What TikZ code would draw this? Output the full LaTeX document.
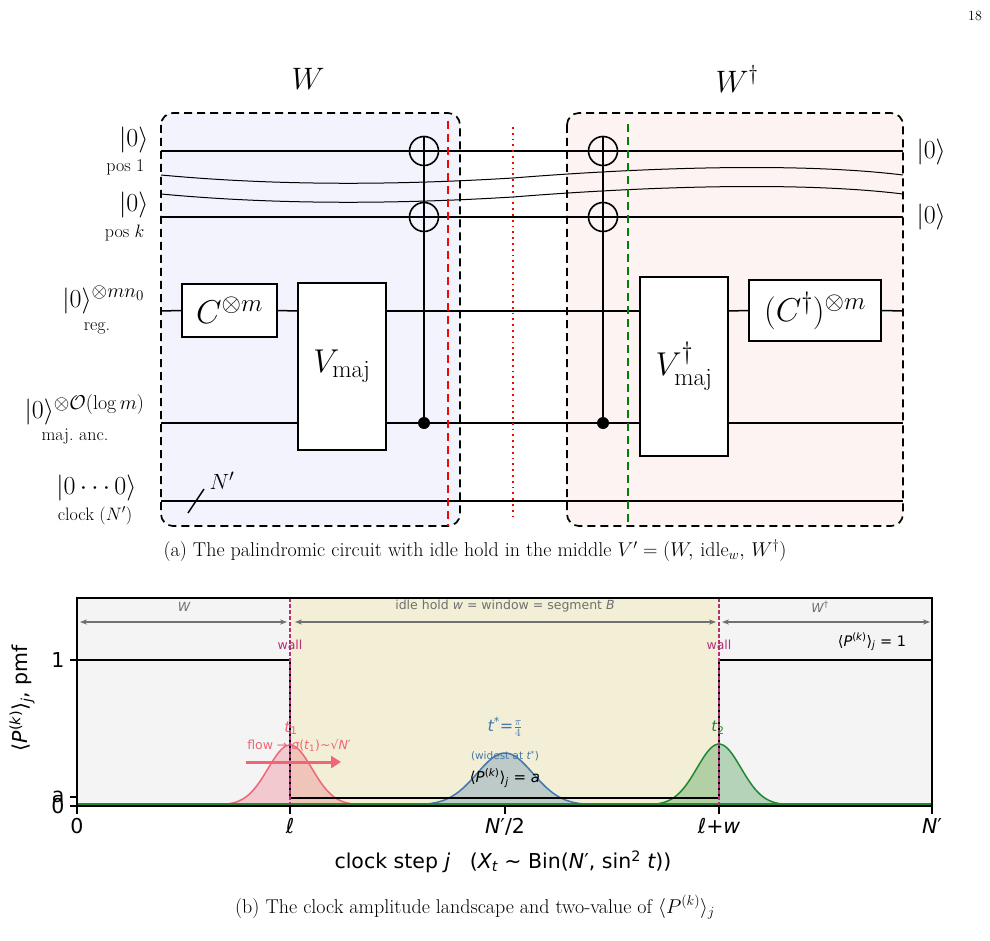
\RequirePackage{fix-cm}
\documentclass[tikz,border=0pt]{standalone}
\usepackage{fontspec}
\usepackage{amsmath,amssymb}
\newfontfamily\dejavu{DejaVu Sans}
\DeclareMathSizes{26}{26}{20}{15}
\DeclareMathSizes{33}{33}{25}{19}
\DeclareMathSizes{22}{22}{17}{13}
\usetikzlibrary{arrows.meta}
\definecolor{wfill}{HTML}{F3F3FD}
\definecolor{wdfill}{HTML}{FDF3F2}
\definecolor{gbg}{HTML}{F4F4F4}
\definecolor{ybg}{HTML}{F2EFD6}
\definecolor{wallc}{HTML}{B0337A}
\definecolor{redg}{HTML}{EE6677}
\definecolor{blueg}{HTML}{4477AA}
\definecolor{greeng}{HTML}{228833}
\definecolor{greyarr}{HTML}{707070}
\begin{document}
\begin{tikzpicture}[x=1pt,y=-1pt,
  wire/.style={line width=1.5pt},
  gate/.style={draw,line width=1.6pt,fill=white,inner sep=0pt},
  targ/.style={draw,circle,line width=1.6pt,minimum size=29pt,inner sep=0pt},
  ctrl/.style={fill,circle,minimum size=12pt,inner sep=0pt},
  lab/.style={font=\fontsize{26}{28}\selectfont},
  sublab/.style={font=\fontsize{18}{20}\selectfont},
  gtxt/.style={font=\fontsize{33}{35}\selectfont},
  box/.style={line width=1.7pt,rounded corners=12pt,dash pattern=on 8pt off 5pt},
  tk/.style={font=\dejavu\fontsize{20.5}{23}\selectfont},
  sm/.style={font=\dejavu\fontsize{12.5}{14}\selectfont},
  gaus/.style={line width=1.5pt}]
\useasboundingbox (0,0) rectangle (990,941);
\node[font=\fontsize{14}{16}\selectfont] (pg) at (975,16) {18};
% boxes
\fill[wfill,rounded corners=12pt] (161,113) rectangle (460,526);
\fill[wdfill,rounded corners=12pt] (567,113) rectangle (903,526);
\draw[box] (161,113) rectangle (460,526);
\draw[box] (567,113) rectangle (903,526);
\node[font=\fontsize{31}{33}\selectfont] (Wl) at (308,79) {$W$};
\node[font=\fontsize{31}{33}\selectfont] (Wr) at (737,79) {$W^\dagger$};
% wires
\coordinate (a1) at (161,151); \coordinate (b1) at (903,151);
\coordinate (a2) at (161,217); \coordinate (b2) at (903,217);
\coordinate (a3) at (161,311); \coordinate (b3) at (903,311);
\coordinate (a4) at (161,423); \coordinate (b4) at (903,423);
\coordinate (a5) at (161,501); \coordinate (b5) at (903,501);
\draw[wire] (a1)--(b1);
\draw[wire] (a2)--(b2);
\draw[wire] (a5)--(b5);
% wavy lines
\draw[line width=1pt] (161,175) .. controls (300,188) and (430,183) .. (513,178) .. controls (600,171) and (780,160) .. (903,175);
\draw[line width=1pt] (161,194) .. controls (300,207) and (430,202) .. (513,197) .. controls (600,190) and (780,179) .. (903,194);
% gates
\node[gate,gtxt,minimum width=95pt,minimum height=53pt] (C) at (229.5,310.5) {$C^{\otimes m}$};
\node[gate,gtxt,minimum width=88pt,minimum height=167pt] (V) at (342,366.5) {$V_{\mathrm{maj}}$};
\node[gate,gtxt,minimum width=88pt,minimum height=179pt] (Vd) at (684,366.5) {$V_{\mathrm{maj}}^{\dagger}$};
\node[gate,gtxt,minimum width=132pt,minimum height=61pt] (Cd) at (815,310.5) {$(C^{\dagger})^{\otimes m}$};
\draw[wire] (a3)--(C.west);
\draw[wire] (C.east)--(V.west|-a3);
\draw[wire] (V.east|-a3)--(Vd.west|-a3);
\draw[wire] (Vd.east|-a3)--(Cd.west);
\draw[wire] (Cd.east)--(b3);
\draw[wire] (a4)--(V.west|-a4);
\draw[wire] (V.east|-a4)--(Vd.west|-a4);
\draw[wire] (Vd.east|-a4)--(b4);
% CNOTs
\foreach \nm/\xx in {L/424,R/603}{
  \node[targ] (t1\nm) at (\xx,151) {};
  \node[targ] (t2\nm) at (\xx,217) {};
  \node[ctrl] (c\nm) at (\xx,423) {};
  \draw[line width=1.6pt] (c\nm.center)--(t1\nm.north);
  \draw[line width=1.6pt] (t1\nm.west)--(t1\nm.east);
  \draw[line width=1.6pt] (t2\nm.west)--(t2\nm.east);
}
% separators
\coordinate (rdT) at (448,121); \coordinate (rdB) at (448,526);
\draw[red,line width=1.8pt,dash pattern=on 8pt off 5pt] (rdT)--(rdB);
\coordinate (roT) at (513,127); \coordinate (roB) at (513,516);
\draw[red,line width=1.8pt,dash pattern=on 1.8pt off 4pt] (roT)--(roB);
\coordinate (gdT) at (628,124); \coordinate (gdB) at (628,526);
\draw[green!50!black,line width=1.8pt,dash pattern=on 8pt off 5pt] (gdT)--(gdB);
% clock slash
\coordinate (s1) at (188,513); \coordinate (s2) at (204,489);
\draw[line width=1.5pt] (s1)--(s2);
\node[font=\fontsize{22}{24}\selectfont] (Np) at (222,481) {$N'$};
% labels left
\node[lab,anchor=east] (l1) at (152,140) {$|0\rangle$};
\node[sublab,anchor=east] (s1l) at (148,167) {pos 1};
\node[lab,anchor=east] (l2) at (152,205) {$|0\rangle$};
\node[sublab,anchor=east] (s2l) at (148,233) {pos $k$};
\node[lab,anchor=east] (l3) at (148,300) {$|0\rangle^{\otimes mn_0}$};
\node[sublab] (s3l) at (97,328) {reg.};
\node[lab,anchor=east] (l4) at (148,410) {$|0\rangle^{\otimes\mathcal{O}(\log m)}$};
\node[sublab] (s4l) at (75,437) {maj.\ anc.};
\node[lab,anchor=east] (l5) at (140,488) {$|0\cdots0\rangle$};
\node[sublab] (s5l) at (95,516) {clock $(N')$};
\node[lab,anchor=west] (r1) at (913,152) {$|0\rangle$};
\node[lab,anchor=west] (r2) at (913,217) {$|0\rangle$};
\node[font=\fontsize{20}{22}\selectfont] (capa) at (475,551) {(a) The palindromic circuit with idle hold in the middle $V'=(W,\,\mathrm{idle}_w,\,W^\dagger)$};
% ===== chart
\fill[gbg] (77,598) rectangle (290,806);
\fill[ybg] (290,598) rectangle (719,806);
\fill[gbg] (719,598) rectangle (932,806);
% gaussians
\foreach \c/\s/\h/\col in {290/22/60/redg,505/28/52/blueg,719/22/61/greeng}{
  \fill[\col,opacity=0.3] plot[domain=\c-110:\c+110,samples=90] (\x,{805-\h*exp(-((\x-\c)/\s)^2/2)}) -- cycle;
  \draw[\col,gaus] plot[domain=\c-110:\c+110,samples=90] (\x,{805-\h*exp(-((\x-\c)/\s)^2/2)});
}
\coordinate (bl0) at (77,805); \coordinate (bl1) at (932,805);
\draw[blueg,line width=1.4pt] (bl0)--(bl1);
\draw[greeng,line width=1.4pt] (77,804)--(932,804);
% step
\coordinate (st0) at (77,660); \coordinate (st1) at (290,660); \coordinate (st2) at (290,798);
\coordinate (st3) at (719,798); \coordinate (st4) at (719,660); \coordinate (st5) at (932,660);
\draw[line width=2.7pt] (st0)--(st1)--(st2)--(st3)--(st4)--(st5);
% walls
\coordinate (w1t) at (290,598); \coordinate (w1b) at (290,806);
\coordinate (w2t) at (719,598); \coordinate (w2b) at (719,806);
\draw[wallc,line width=1.2pt,dash pattern=on 4pt off 2pt] (w1t)--(w1b);
\draw[wallc,line width=1.2pt,dash pattern=on 4pt off 2pt] (w2t)--(w2b);
\node[sm,text=wallc] (wl1) at (290,645) {wall};
\node[sm,text=wallc] (wl2) at (719,645) {wall};
% region arrows
\coordinate (ra0) at (80,622); \coordinate (ra1) at (287,622);
\coordinate (rb0) at (295,622); \coordinate (rb1) at (716,622);
\coordinate (rc0) at (722,622); \coordinate (rc1) at (930,622);
\draw[greyarr,line width=1.1pt,{Stealth[open,length=7pt]}-{Stealth[open,length=7pt]}] (ra0)--(ra1);
\draw[greyarr,line width=1.1pt,{Stealth[open,length=7pt]}-{Stealth[open,length=7pt]}] (rb0)--(rb1);
\draw[greyarr,line width=1.1pt,{Stealth[open,length=7pt]}-{Stealth[open,length=7pt]}] (rc0)--(rc1);
\node[sm,text=greyarr] (lw) at (184,607) {\itshape W};
\node[sm,text=greyarr] (li) at (505,606) {idle hold {\itshape w} = window = segment {\itshape B}};
\node[sm,text=greyarr] (lwd) at (820,607) {{\itshape W}\textsuperscript{†}};
\node[font=\dejavu\fontsize{14.5}{17}\selectfont] (one) at (872,642) {⟨{\itshape P}\textsuperscript{({\itshape k})}⟩\textsubscript{\itshape j} = 1};
% annotations
\node[font=\dejavu\fontsize{15}{17}\selectfont,text=redg] (t1l) at (291,728) {{\itshape t}\textsubscript{1}};
\node[sm,text=redg] (flow) at (299,745) {flow → {\itshape σ}({\itshape t}\textsubscript{1})∼√{\itshape N}′};
\coordinate (fa0) at (246,762); \coordinate (fa1) at (341,762);
\draw[redg,line width=3pt,-{Triangle[length=10pt,width=12pt]}] (fa0)--(fa1);
\node[font=\dejavu\fontsize{16}{18}\selectfont,text=blueg] (tsl) at (505,727) {{\itshape t}\textsuperscript{*}=$\frac{\pi}{4}$};
\node[font=\dejavu\fontsize{10.5}{12}\selectfont,text=blueg] (wid) at (505,756) {(widest at {\itshape t}\textsuperscript{*})};
\node[font=\dejavu\fontsize{15}{17}\selectfont] (al) at (505,778) {⟨{\itshape P}\textsuperscript{({\itshape k})}⟩\textsubscript{\itshape j} = {\itshape a}};
\node[font=\dejavu\fontsize{15}{17}\selectfont,text=greeng] (t2l) at (718,728) {{\itshape t}\textsubscript{2}};
% frame
\coordinate (fr0) at (77,598); \coordinate (fr1) at (932,806);
\draw[line width=1.5pt] (fr0) rectangle (fr1);
% ticks
\foreach \xx/\tt in {77/{0},290/{\itshape ℓ},505/{{\itshape N}′/2},719/{{\itshape ℓ}+{\itshape w}},932/{{\itshape N}′}}{
  \draw[line width=1.3pt] (\xx,806)--(\xx,814);
  \node[tk,anchor=north] at (\xx,815) {\tt};
}
\foreach \yy/\tt in {660/1,797/a,806/0}{
  \draw[line width=1.3pt] (77,\yy)--(70,\yy);
  \node[tk,anchor=east] at (68,\yy) {\tt};
}
\node[tk,rotate=90] (yl) at (22,698) {⟨{\itshape P}\textsuperscript{({\itshape k})}⟩\textsubscript{\itshape j}, pmf};
\node[tk] (xl) at (503,862) {clock step {\itshape j} \ \ ({\itshape X}\textsubscript{\itshape t} ∼ Bin({\itshape N}′, sin\textsuperscript{2} {\itshape t}))};
\node[font=\fontsize{20}{22}\selectfont] (capb) at (475,907) {(b) The clock amplitude landscape and two-value of $\langle P^{(k)}\rangle_j$};
\end{tikzpicture}
\end{document}
